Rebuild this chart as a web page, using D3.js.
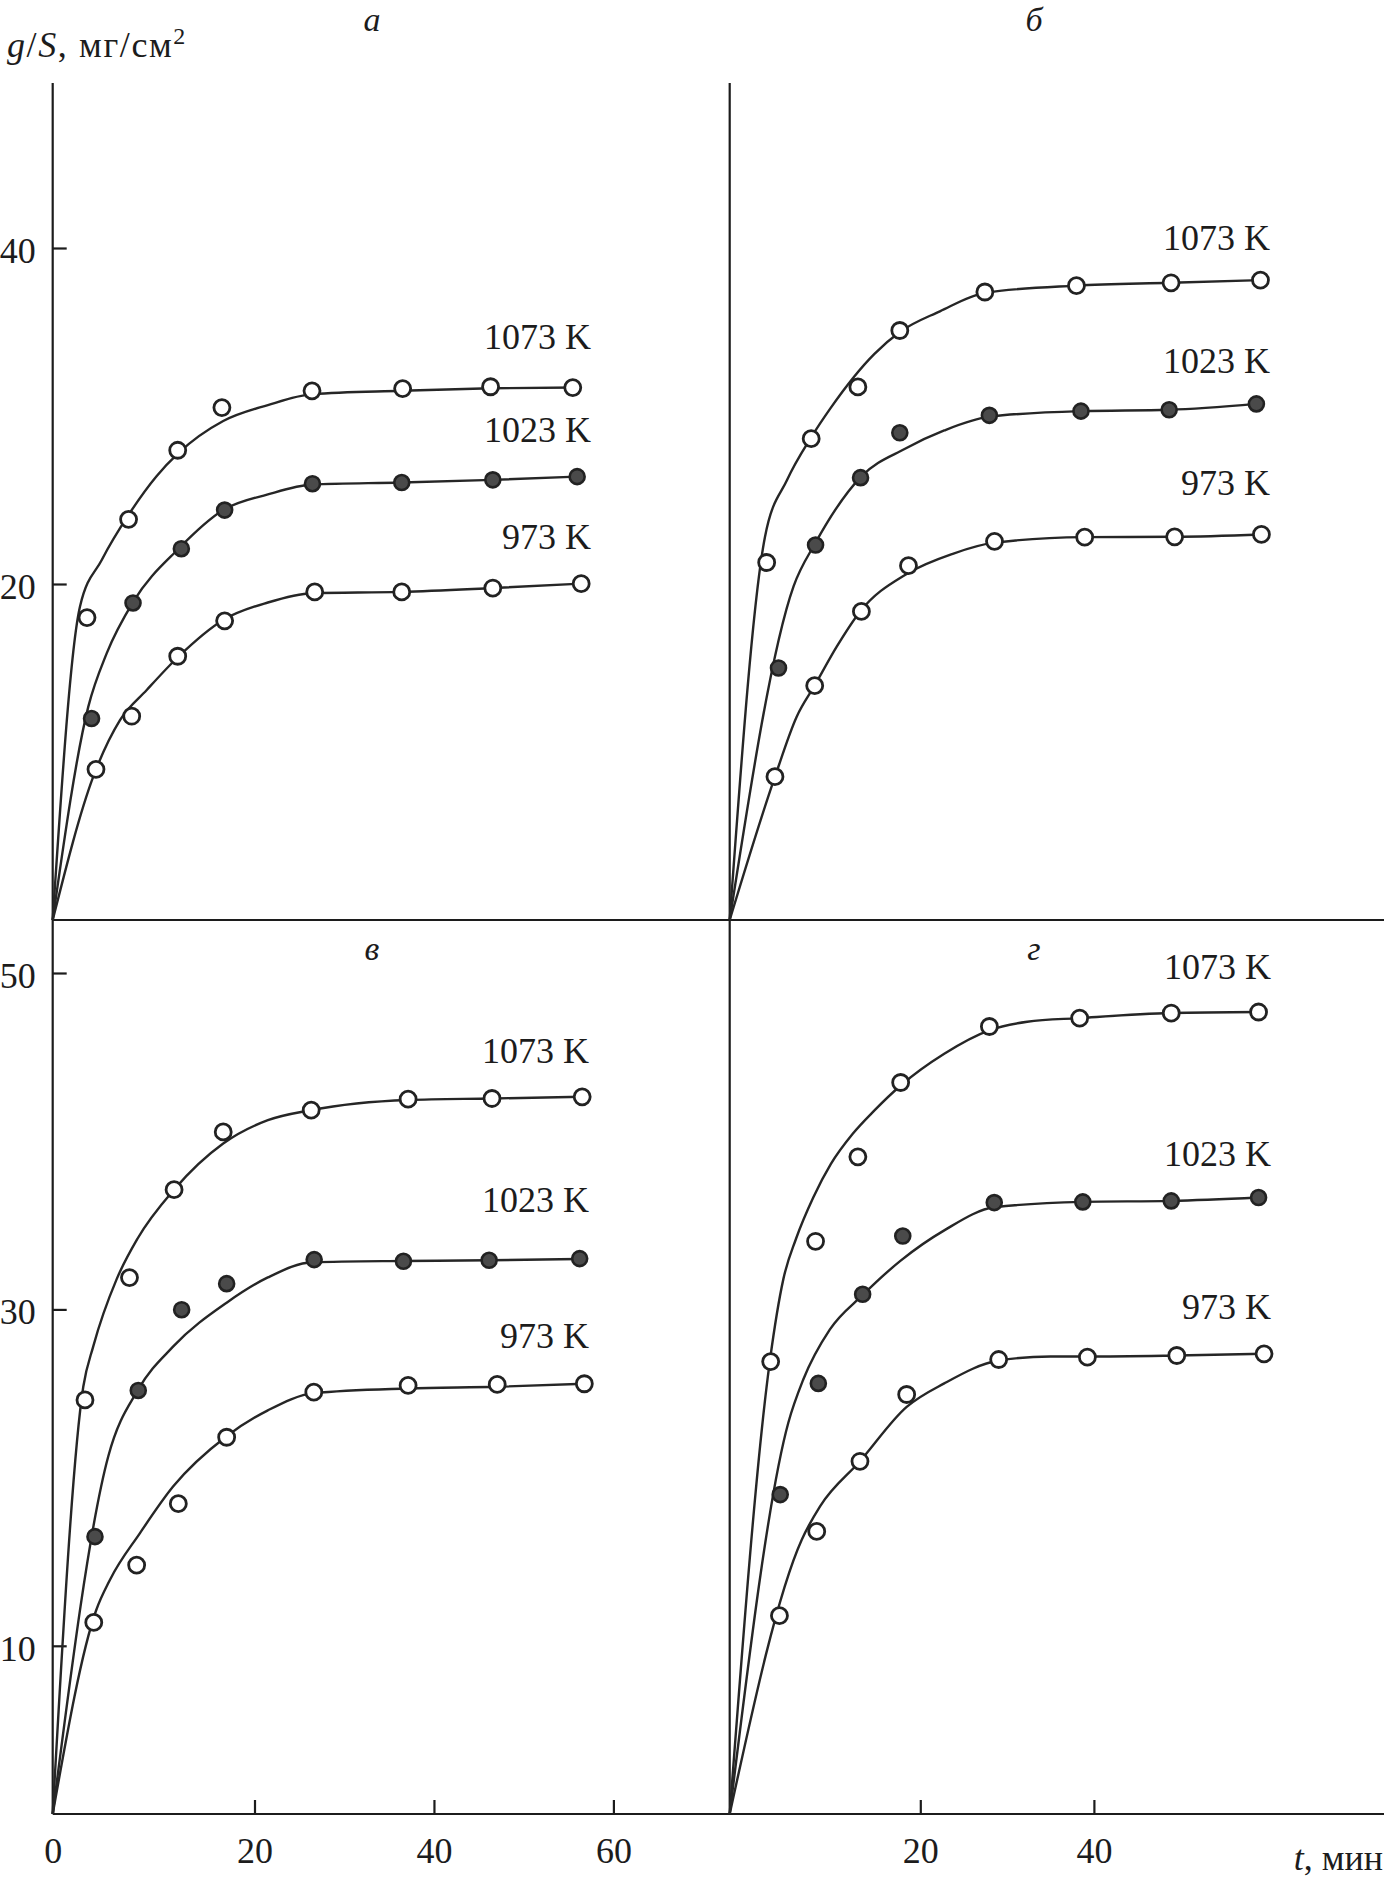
<!DOCTYPE html>
<html><head><meta charset="utf-8">
<script src="https://cdnjs.cloudflare.com/ajax/libs/d3/7.8.5/d3.min.js"></script>
<style>body{margin:0;background:#fff}svg{display:block}</style>
</head><body>
<script>
// ---------- data (t, мин ; g/S, мг/см²) ----------
const tempLabels = ["1073 K", "1023 K", "973 K"];
const panelTitles = ["а", "б", "в", "г"];
const xTicksLeft = [0, 20, 40, 60];
const xTicksRight = [20, 40];
const yTicksTop = [20, 40];
const yTicksBottom = [10, 30, 50];

// panel а
const a1073 = [[3.4,18.0],[7.52,23.85],[12.39,27.96],[16.77,30.5],[26.41,31.5],[36.51,31.63],[46.31,31.74],[55.47,31.69]];
const a1023 = [[3.85,11.99],[7.96,18.87],[12.75,22.1],[17.04,24.4],[26.46,25.97],[36.41,26.04],[46.56,26.2],[55.96,26.39]];
const a973  = [[4.29,8.97],[7.83,12.13],[12.39,15.7],[17.04,17.81],[26.71,19.53],[36.41,19.53],[46.56,19.76],[56.41,20.02]];
const aFit1073 = [[0,0],[2.7,18.65],[4.86,21.43],[7.61,24.2],[10.27,26.4],[12.48,27.8],[16.9,29.7],[21.49,30.65],[26.46,31.3],[36.41,31.5],[46.35,31.65],[55.82,31.7]];
const aFit1023 = [[0,0],[3.53,12.7],[5.35,15.87],[7.99,18.95],[12.48,22.1],[16.9,24.4],[21.49,25.33],[26.46,25.92],[36.41,26.04],[46.56,26.2],[55.96,26.39]];
const aFit973  = [[0,0],[4.02,8.53],[6.67,11.9],[9.32,13.69],[12.45,15.67],[16.9,17.86],[21.49,18.9],[26.46,19.45],[36.41,19.53],[46.56,19.76],[56.41,20.02]];

// panel б
const b1073 = [[3.88,21.28],[8.55,28.65],[13.45,31.73],[17.85,35.09],[27.44,37.38],[37.99,37.76],[48.89,37.93],[59.19,38.09]];
const b1023 = [[5.12,15.0],[9.01,22.32],[13.73,26.33],[17.85,29.0],[27.96,30.04],[38.51,30.29],[48.67,30.37],[58.72,30.72]];
const b973  = [[4.75,8.53],[8.92,13.95],[13.82,18.37],[18.76,21.09],[28.55,22.54],[38.94,22.79],[49.3,22.81],[59.3,22.95]];
const bFit1073 = [[0,0],[3.7,22.8],[6.03,26.2],[8.55,28.73],[10.62,30.5],[15.19,33.7],[17.85,35.0],[22.26,36.23],[27.44,37.33],[37.99,37.76],[48.89,37.93],[59.19,38.09]];
const bFit1023 = [[0,0],[6.7,19.86],[9.01,22.46],[13.82,26.41],[18.4,28.05],[22.76,29.14],[27.96,29.96],[38.51,30.29],[48.67,30.37],[58.72,30.72]];
const bFit973  = [[0,0],[4.75,8.53],[7.03,12.1],[8.95,13.99],[11.23,16.27],[13.67,18.35],[18.57,20.6],[23.74,21.8],[28.52,22.46],[38.9,22.79],[49.3,22.81],[59.3,22.95]];

// panel в
const c1073 = [[3.2,24.62],[7.61,31.89],[12.03,37.12],[16.9,40.55],[26.32,41.85],[37.12,42.5],[46.47,42.54],[56.52,42.64]];
const c1023 = [[4.19,16.49],[8.48,25.18],[12.78,29.98],[17.24,31.53],[26.65,32.96],[36.6,32.86],[46.15,32.92],[56.24,33.02]];
const c973  = [[4.07,11.39],[8.32,14.8],[12.45,18.45],[17.24,22.4],[26.61,25.08],[37.12,25.48],[47.05,25.54],[56.76,25.58]];
const cFit1073 = [[0,0],[3.03,25.4],[4.02,27.8],[6.34,31.8],[8.4,34.2],[12.03,37.12],[16.9,39.86],[21.49,41.25],[26.32,41.85],[37.12,42.45],[46.47,42.54],[56.52,42.64]];
const cFit1023 = [[0,0],[5.51,21.27],[8.48,25.24],[11.95,27.8],[17.24,30.4],[21.49,31.9],[26.46,32.8],[36.6,32.88],[46.15,32.92],[56.24,33.0]];
const cFit973  = [[0,0],[4.3,12.1],[5.68,13.93],[8.65,16.7],[11.95,19.48],[17.24,22.46],[21.49,24.0],[26.61,25.02],[37.12,25.3],[47.05,25.4],[56.76,25.58]];

// panel г
const d1073 = [[4.3,26.9],[9.01,34.05],[13.45,39.07],[17.94,43.49],[27.96,46.82],[38.36,47.32],[48.91,47.62],[58.97,47.68]];
const d1023 = [[5.3,18.99],[9.3,25.6],[13.95,30.9],[18.16,34.36],[28.52,36.35],[38.72,36.39],[48.91,36.45],[58.97,36.65]];
const d973  = [[5.22,11.79],[9.13,16.8],[13.67,20.97],[18.57,24.94],[29.03,27.02],[39.25,27.16],[49.55,27.26],[59.6,27.36]];
const dFit1073 = [[0,0],[4.23,27.0],[5.63,31.8],[6.96,34.2],[8.78,36.67],[10.62,38.65],[12.91,40.44],[15.19,41.83],[17.94,43.31],[22.76,45.2],[27.94,46.59],[32.32,47.1],[38.36,47.32],[48.91,47.62],[58.97,47.68]];
const dFit1023 = [[0,0],[6.15,23.26],[7.72,25.83],[10.5,28.8],[13.91,30.83],[17.94,32.9],[22.76,34.7],[28.55,36.07],[38.72,36.39],[48.91,36.45],[58.97,36.65]];
const dFit973  = [[0,0],[7.56,16.31],[9.48,18.29],[13.67,20.97],[18.57,24.2],[22.76,25.6],[29.03,26.96],[35,27.2],[39.25,27.2],[49.55,27.26],[59.6,27.36]];

// ---------- layout ----------
const W = 1384, H = 1881;
const FONT = "'Liberation Serif','Times New Roman',serif";
const ink = "#1c1c1c";

const xLeft  = d3.scaleLinear().domain([0,20,60]).range([52.7,254.5,613.4]);
const xRight = d3.scaleLinear().domain([0,20,40]).range([729.7,920.3,1093.9]);
const yTop = d3.scaleLinear().domain([0,40]).range([920,248]);
const yBot = d3.scaleLinear().domain([0,50]).range([1814,973]);
const axisTopY = 83, rightEdge = 1384;

const panels = [
  {title:panelTitles[0], x:xLeft,  y:yTop, pts:[a1073,a1023,a973], fit:[aFit1073,aFit1023,aFit973], titlePos:[372,31], labX:591,  labY:[349,442,549]},
  {title:panelTitles[1], x:xRight, y:yTop, pts:[b1073,b1023,b973], fit:[bFit1073,bFit1023,bFit973], titlePos:[1034,31], labX:1270, labY:[250,373,495]},
  {title:panelTitles[2], x:xLeft,  y:yBot, pts:[c1073,c1023,c973], fit:[cFit1073,cFit1023,cFit973], titlePos:[372,960], labX:589, labY:[1063,1212,1348]},
  {title:panelTitles[3], x:xRight, y:yBot, pts:[d1073,d1023,d973], fit:[dFit1073,dFit1023,dFit973], titlePos:[1034,960], labX:1271, labY:[979,1166,1319]}
];

const svg = d3.select("body").append("svg").attr("width", W).attr("height", H)
  .attr("font-family", FONT).style("font-family", FONT);

// frame lines
const frame = svg.append("g").attr("stroke", ink).attr("stroke-width", 2.2);
frame.append("line").attr("x1", xLeft(0)).attr("x2", xLeft(0)).attr("y1", axisTopY).attr("y2", yBot(0));
frame.append("line").attr("x1", xRight(0)).attr("x2", xRight(0)).attr("y1", axisTopY).attr("y2", yBot(0));
frame.append("line").attr("x1", xLeft(0)).attr("x2", rightEdge).attr("y1", yTop(0)).attr("y2", yTop(0));
frame.append("line").attr("x1", xLeft(0)).attr("x2", rightEdge).attr("y1", yBot(0)).attr("y2", yBot(0));

function styleAxis(g, dy) {
  g.attr("font-family", FONT).attr("font-size", 36);
  g.select(".domain").remove();
  g.selectAll(".tick line").attr("stroke", ink).attr("stroke-width", 2.2);
  g.selectAll(".tick text").attr("fill", ink).style("font-size", "36px").style("font-family", FONT);
  if (dy) g.selectAll(".tick text").attr("dy", dy);
}

// y axes (left only)
svg.append("g").attr("transform", `translate(${xLeft(0)},0)`)
  .call(d3.axisLeft(yTop).tickValues(yTicksTop).tickSizeInner(-14).tickSizeOuter(0).tickPadding(17))
  .call(g => styleAxis(g, "0.4em"));
svg.append("g").attr("transform", `translate(${xLeft(0)},0)`)
  .call(d3.axisLeft(yBot).tickValues(yTicksBottom).tickSizeInner(-14).tickSizeOuter(0).tickPadding(17))
  .call(g => styleAxis(g, "0.4em"));

// x axes
svg.append("g").attr("transform", `translate(0,${yBot(0)})`)
  .call(d3.axisBottom(xLeft).tickValues(xTicksLeft).tickSizeInner(-14).tickSizeOuter(0).tickPadding(23))
  .call(g => styleAxis(g));
svg.append("g").attr("transform", `translate(0,${yBot(0)})`)
  .call(d3.axisBottom(xRight).tickValues(xTicksRight).tickSizeInner(-14).tickSizeOuter(0).tickPadding(23))
  .call(g => styleAxis(g));

// axis titles
const yt = svg.append("text").attr("x", 7).attr("y", 57).attr("fill", ink)
  .style("font-size", "36px").style("letter-spacing", "1.6px");
yt.append("tspan").style("font-style", "italic").text("g");
yt.append("tspan").text("/");
yt.append("tspan").style("font-style", "italic").text("S");
yt.append("tspan").text(", мг/см");
yt.append("tspan").attr("dy", -13).style("font-size", "24px").text("2");

const xt = svg.append("text").attr("x", 1383).attr("y", 1870).attr("text-anchor", "end")
  .attr("fill", ink).style("font-size", "36px");
xt.append("tspan").style("font-style", "italic").text("t");
xt.append("tspan").text(", мин");

// panels
const line = (xs, ys) => d3.line().x(d => xs(d[0])).y(d => ys(d[1])).curve(d3.curveMonotoneX);

panels.forEach(p => {
  const g = svg.append("g");
  g.append("text").attr("x", p.titlePos[0]).attr("y", p.titlePos[1]).attr("text-anchor", "middle")
    .attr("fill", ink).style("font-size", "34px").style("font-style", "italic").text(p.title);

  p.fit.forEach(f => {
    g.append("path").datum(f).attr("d", line(p.x, p.y))
      .attr("fill", "none").attr("stroke", "#262626").attr("stroke-width", 2.4)
      .attr("stroke-linejoin", "round");
  });

  p.pts.forEach((s, i) => {
    const filled = i === 1;
    g.selectAll(null).data(s).join("circle")
      .attr("cx", d => p.x(d[0])).attr("cy", d => p.y(d[1]))
      .attr("r", filled ? 7.5 : 8)
      .attr("fill", filled ? "#4a4a4a" : "#fff")
      .attr("stroke", "#222").attr("stroke-width", filled ? 2.6 : 2.8);
  });

  tempLabels.forEach((t, i) => {
    g.append("text").attr("x", p.labX).attr("y", p.labY[i]).attr("text-anchor", "end")
      .attr("fill", ink).style("font-size", "36px").text(t);
  });
});
</script>
</body></html>
